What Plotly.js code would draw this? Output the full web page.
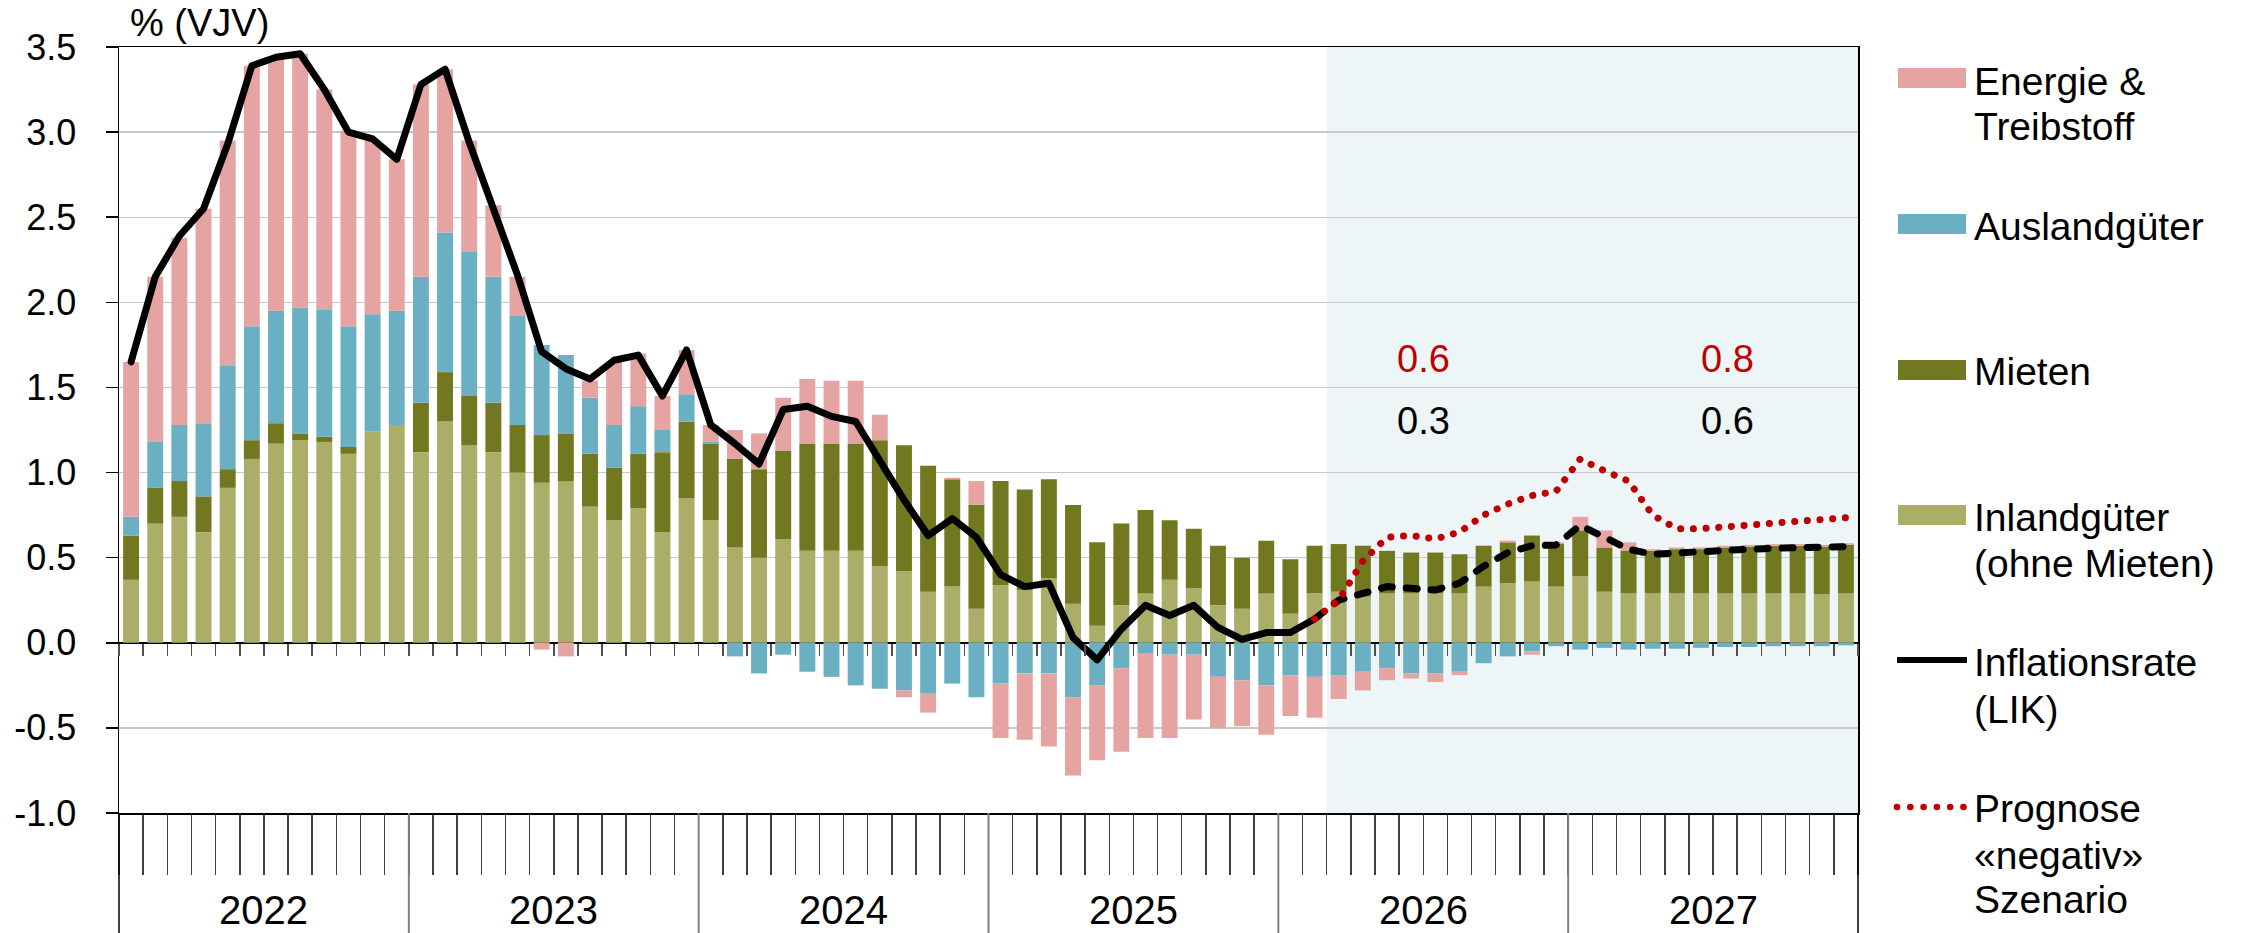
<!DOCTYPE html>
<html>
<head>
<meta charset="utf-8">
<script src="https://cdn.plot.ly/plotly-3.0.1.min.js"></script>
<style>
html,body{margin:0;padding:0;background:#ffffff;}
#chart{width:2252px;height:933px;}
</style>
</head>
<body>
<div id="chart"></div>
<script>
// ---------- DATA ----------
const years = ['2022', '2023', '2024', '2025', '2026', '2027'];
const monthNames = ['Jan','Feb','Mär','Apr','Mai','Jun','Jul','Aug','Sep','Okt','Nov','Dez'];
const months = [];
years.forEach(y => monthNames.forEach(m => months.push(m + ' ' + y)));

// Contributions to the inflation rate (percentage points, y/y)
const inlandgueter = [
  0.37, 0.70, 0.74, 0.65, 0.91, 1.08, 1.17, 1.19, 1.18, 1.11, 1.24, 1.28,
  1.12, 1.30, 1.16, 1.12, 1.00, 0.94, 0.95, 0.80, 0.72, 0.79, 0.65, 0.85,
  0.72, 0.56, 0.50, 0.61, 0.54, 0.54, 0.54, 0.45, 0.42, 0.30, 0.33, 0.20,
  0.34, 0.31, 0.38, 0.23, 0.10, 0.22, 0.29, 0.37, 0.32, 0.22, 0.20, 0.29,
  0.17, 0.29, 0.30, 0.27, 0.29, 0.29, 0.29, 0.29, 0.33, 0.35, 0.36, 0.33,
  0.39, 0.30, 0.29, 0.29, 0.29, 0.29, 0.29, 0.29, 0.29, 0.29, 0.285, 0.29
];
const mieten = [
  0.26, 0.21, 0.21, 0.21, 0.11, 0.11, 0.12, 0.04, 0.03, 0.04, 0.00, 0.00,
  0.29, 0.29, 0.29, 0.29, 0.28, 0.28, 0.28, 0.31, 0.31, 0.32, 0.47, 0.45,
  0.45, 0.52, 0.52, 0.52, 0.63, 0.63, 0.63, 0.74, 0.74, 0.74, 0.63, 0.61,
  0.61, 0.59, 0.58, 0.58, 0.49, 0.48, 0.49, 0.35, 0.35, 0.35, 0.30, 0.31,
  0.32, 0.28, 0.28, 0.30, 0.25, 0.24, 0.24, 0.23, 0.24, 0.24, 0.27, 0.25,
  0.27, 0.26, 0.25, 0.25, 0.26, 0.26, 0.27, 0.275, 0.28, 0.28, 0.28, 0.285
];
const auslandgueter = [
  0.11, 0.27, 0.33, 0.43, 0.61, 0.67, 0.66, 0.74, 0.75, 0.71, 0.69, 0.67,
  0.74, 0.82, 0.85, 0.74, 0.64, 0.53, 0.46, 0.33, 0.25, 0.28, 0.13, 0.16,
  0.01, -0.08, -0.18, -0.07, -0.17, -0.20, -0.25, -0.27, -0.28, -0.30, -0.24, -0.32,
  -0.24, -0.18, -0.18, -0.32, -0.25, -0.15, -0.06, -0.07, -0.07, -0.20, -0.22, -0.25,
  -0.19, -0.20, -0.19, -0.17, -0.15, -0.18, -0.18, -0.17, -0.12, -0.08, -0.05, -0.02,
  -0.04, -0.03, -0.04, -0.035, -0.035, -0.03, -0.025, -0.025, -0.02, -0.02, -0.02, -0.015
];
const energie = [
  0.91, 0.97, 1.10, 1.26, 1.32, 1.53, 1.48, 1.49, 1.29, 1.15, 1.02, 0.89,
  1.13, 0.96, 0.65, 0.42, 0.23, -0.04, -0.08, 0.10, 0.37, 0.31, 0.20, 0.26,
  0.10, 0.17, 0.21, 0.31, 0.38, 0.37, 0.37, 0.15, -0.04, -0.11, 0.01, 0.14,
  -0.32, -0.39, -0.43, -0.46, -0.44, -0.49, -0.50, -0.49, -0.38, -0.30, -0.27, -0.29,
  -0.24, -0.24, -0.14, -0.11, -0.07, -0.03, -0.05, -0.02, 0.00, 0.01, -0.02, 0.01,
  0.08, 0.10, 0.05, 0.01, 0.01, 0.01, 0.01, 0.01, 0.01, 0.01, 0.01, 0.01
];
// Inflation rate (LIK), actual until index lastActual, baseline forecast afterwards
const inflation = [
  1.65, 2.15, 2.39, 2.55, 2.93, 3.39, 3.44, 3.46, 3.25, 3.00, 2.96, 2.84,
  3.28, 3.37, 2.94, 2.55, 2.16, 1.71, 1.61, 1.55, 1.66, 1.69, 1.45, 1.72,
  1.28, 1.17, 1.05, 1.37, 1.39, 1.33, 1.30, 1.07, 0.84, 0.63, 0.73, 0.62,
  0.40, 0.33, 0.35, 0.03, -0.10, 0.08, 0.22, 0.16, 0.22, 0.09, 0.02, 0.06,
  0.06, 0.14, 0.25, 0.29, 0.33, 0.32, 0.31, 0.35, 0.45, 0.53, 0.57, 0.575,
  0.69, 0.62, 0.55, 0.52, 0.53, 0.535, 0.54, 0.55, 0.555, 0.555, 0.56, 0.565
];
const lastActual = 49; // Feb 2026
// "negativ" scenario forecast
const negativScenario = [
  null, null, null, null, null, null, null, null, null, null, null, null,
  null, null, null, null, null, null, null, null, null, null, null, null,
  null, null, null, null, null, null, null, null, null, null, null, null,
  null, null, null, null, null, null, null, null, null, null, null, null,
  null, 0.14, 0.25, 0.48, 0.62, 0.63, 0.61, 0.65, 0.75, 0.815, 0.865, 0.89,
  1.08, 1.01, 0.95, 0.75, 0.67, 0.67, 0.68, 0.695, 0.705, 0.715, 0.725, 0.735
];
// annual averages shown in forecast area
const annualYears = ['2026', '2027'];
const annualNegativ = ['0.6', '0.8'];
const annualBase = ['0.3', '0.6'];

const yTickVals = [-1, -0.5, 0, 0.5, 1, 1.5, 2, 2.5, 3, 3.5];
const yTickText = ['-1.0', '-0.5', '0.0', '0.5', '1.0', '1.5', '2.0', '2.5', '3.0', '3.5'];

// ---------- STYLE ----------
const C_ENERGIE = '#e5a4a2';
const C_AUSLAND = '#6bafc3';
const C_MIETEN = '#72781f';
const C_INLAND = '#aaae68';
const C_RED = '#c00000';
const FONT = 'Liberation Sans, Arial, Helvetica, sans-serif';

const x = months.map((m, i) => i);
const boundaries = [];
for (let i = 0; i <= months.length; i++) boundaries.push(i - 0.5);

const solid = inflation.map((v, i) => i <= lastActual ? v : null);
const dashed = inflation.map((v, i) => i >= lastActual ? v : null);

const barCommon = {type: 'bar', x: x, hoverinfo: 'skip', showlegend: false};
const traces = [
  Object.assign({}, barCommon, {name: 'Inlandgüter (ohne Mieten)', y: inlandgueter, marker: {color: C_INLAND, line: {width: 0}}}),
  Object.assign({}, barCommon, {name: 'Mieten', y: mieten, marker: {color: C_MIETEN, line: {width: 0}}}),
  Object.assign({}, barCommon, {name: 'Auslandgüter', y: auslandgueter, marker: {color: C_AUSLAND, line: {width: 0}}}),
  Object.assign({}, barCommon, {name: 'Energie & Treibstoff', y: energie, marker: {color: C_ENERGIE, line: {width: 0}}}),
  {type: 'scatter', mode: 'lines', name: 'Inflationsrate (LIK)', x: x, y: solid, showlegend: false, hoverinfo: 'skip',
   line: {color: '#000000', width: 7}},
  {type: 'scatter', mode: 'lines', name: 'Inflationsrate Prognose', x: x, y: dashed, showlegend: false, hoverinfo: 'skip',
   line: {color: '#000000', width: 7, dash: '11px,14px'}},
  {type: 'scatter', mode: 'lines', name: 'Prognose «negativ» Szenario', x: x, y: negativScenario, showlegend: false, hoverinfo: 'skip',
   line: {color: C_RED, width: 7, dash: '0.1px,12.6px'}},
  {type: 'scatter', mode: 'lines', x: [], y: [], xaxis: 'x2', yaxis: 'y', showlegend: false, hoverinfo: 'skip'}
];

// ---------- LAYOUT helpers (pixel -> paper) ----------
const W = 2252, H = 933, ML = 119, MR = 394, MT = 47, MB = 120;
const PW = W - ML - MR, PH = H - MT - MB;
const px = v => (v - ML) / PW;
const py = v => (H - MB - v) / PH;

const shapes = [];
const annotations = [];

// forecast shading (from Mar 2026)
shapes.push({type: 'rect', xref: 'x', yref: 'y', x0: lastActual + 0.5, x1: months.length - 0.5, y0: -1, y1: 3.5,
  fillcolor: '#edf5f7', line: {width: 0}, layer: 'below'});
// frame extensions down to the year band
shapes.push({type: 'line', xref: 'paper', yref: 'paper', x0: 0, x1: 0, y0: 0, y1: py(H), line: {color: '#000', width: 1.5}});
shapes.push({type: 'line', xref: 'paper', yref: 'paper', x0: 1, x1: 1, y0: 0, y1: py(H), line: {color: '#000', width: 1.5}});
// year dividers and labels
years.forEach((yr, k) => {
  if (k > 0) shapes.push({type: 'line', xref: 'x', yref: 'paper', x0: k * 12 - 0.5, x1: k * 12 - 0.5, y0: 0, y1: py(H),
    line: {color: '#808080', width: 2}});
  annotations.push({xref: 'x', yref: 'paper', x: k * 12 + 5.5, y: py(910), text: yr, showarrow: false,
    xanchor: 'center', yanchor: 'middle', font: {family: FONT, size: 40, color: '#000'}});
});

// axis unit label
annotations.push({xref: 'paper', yref: 'paper', x: px(128), y: py(23), text: '% (VJV)', showarrow: false,
  xanchor: 'left', yanchor: 'middle', font: {family: FONT, size: 38, color: '#000'}});

// annual averages
annualYears.forEach((yr, k) => {
  const xc = years.indexOf(yr) * 12 + 5.5 + (k === 1 ? 0.6 : 0);
  annotations.push({xref: 'x', yref: 'y', x: xc, y: 1.67, text: annualNegativ[k], showarrow: false,
    xanchor: 'center', yanchor: 'middle', font: {family: FONT, size: 38, color: C_RED}});
  annotations.push({xref: 'x', yref: 'y', x: xc, y: 1.30, text: annualBase[k], showarrow: false,
    xanchor: 'center', yanchor: 'middle', font: {family: FONT, size: 38, color: '#000'}});
});

// custom legend
const legendItems = [
  {kind: 'bar', color: C_ENERGIE, sy: 78, lines: ['Energie &', 'Treibstoff'], ty: [81, 127]},
  {kind: 'bar', color: C_AUSLAND, sy: 224, lines: ['Auslandgüter'], ty: [226]},
  {kind: 'bar', color: C_MIETEN, sy: 370, lines: ['Mieten'], ty: [371]},
  {kind: 'bar', color: C_INLAND, sy: 515, lines: ['Inlandgüter', '(ohne Mieten)'], ty: [517, 563]},
  {kind: 'line', color: '#000', sy: 660, lines: ['Inflationsrate', '(LIK)'], ty: [662, 709]},
  {kind: 'dot', color: C_RED, sy: 807, lines: ['Prognose', '«negativ»', 'Szenario'], ty: [808, 855, 899]}
];
legendItems.forEach(it => {
  if (it.kind === 'bar') {
    shapes.push({type: 'rect', xref: 'paper', yref: 'paper', x0: px(1898), x1: px(1966), y0: py(it.sy - 10), y1: py(it.sy + 10),
      fillcolor: it.color, line: {width: 0}});
  } else if (it.kind === 'line') {
    shapes.push({type: 'line', xref: 'paper', yref: 'paper', x0: px(1897), x1: px(1967), y0: py(it.sy), y1: py(it.sy),
      line: {color: it.color, width: 6}});
  } else {
    for (let d = 0; d < 6; d++) {
      const cx = 1897 + d * 13.3;
      shapes.push({type: 'circle', xref: 'paper', yref: 'paper', x0: px(cx - 3.3), x1: px(cx + 3.3), y0: py(it.sy - 3.3), y1: py(it.sy + 3.3),
        fillcolor: it.color, line: {width: 0}});
    }
  }
  it.lines.forEach((t, j) => {
    annotations.push({xref: 'paper', yref: 'paper', x: px(1972), y: py(it.ty[j]), text: t, showarrow: false,
      xanchor: 'left', yanchor: 'middle', font: {family: FONT, size: 39, color: '#000'}});
  });
});

const layout = {
  width: W, height: H,
  margin: {l: ML, r: MR, t: MT, b: MB, pad: 0},
  paper_bgcolor: 'rgba(0,0,0,0)', plot_bgcolor: 'rgba(0,0,0,0)',
  font: {family: FONT, size: 36, color: '#000'},
  barmode: 'relative', bargap: 0.34,
  showlegend: false,
  xaxis: {range: [-0.5, months.length - 0.5], showgrid: false, zeroline: false, showline: true, linecolor: '#000', linewidth: 1.5,
    mirror: true, ticks: 'outside', ticklen: 60, tickwidth: 1.5, tickcolor: '#404040', tickmode: 'array', tickvals: boundaries,
    showticklabels: false, fixedrange: true},
  xaxis2: {overlaying: 'x', anchor: 'free', position: 1 / 4.5, range: [-0.5, months.length - 0.5], showgrid: false, zeroline: false,
    showline: false, ticks: 'outside', ticklen: 12, tickwidth: 1.5, tickcolor: '#505050', tickmode: 'array', tickvals: boundaries,
    showticklabels: false, fixedrange: true},
  yaxis: {range: [-1, 3.5], tickmode: 'array', tickvals: yTickVals, ticktext: yTickText, ticks: 'outside', ticklen: 12,
    tickwidth: 1.5, tickcolor: '#000', showline: true, linecolor: '#000', linewidth: 1.5, mirror: true,
    showgrid: true, gridcolor: '#c8c8c8', gridwidth: 1.3, zeroline: true, zerolinecolor: '#000', zerolinewidth: 1.5,
    tickfont: {family: FONT, size: 36, color: '#000'}, ticklabelstandoff: 22, fixedrange: true},
  shapes: shapes,
  annotations: annotations
};

Plotly.newPlot('chart', traces, layout, {displayModeBar: false, staticPlot: true}).then(() => {
  document.querySelectorAll('.scatterlayer .trace path.js-line').forEach(p => {
    p.style.strokeLinecap = 'round';
    p.style.strokeLinejoin = 'round';
  });
});
</script>
</body>
</html>
